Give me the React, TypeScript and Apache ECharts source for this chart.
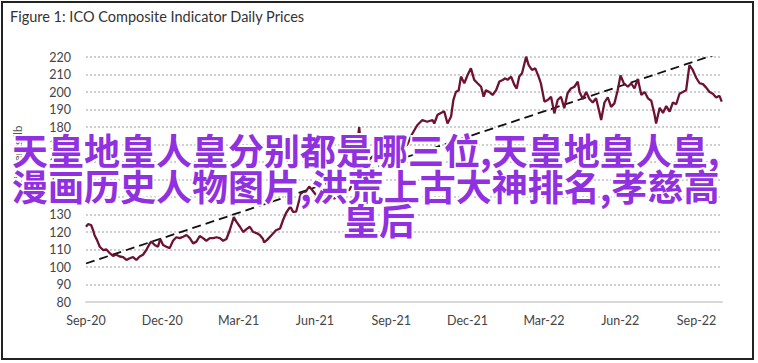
import { useEffect, useRef } from "react";
import * as echarts from "echarts";

const titleText = "Figure 1: ICO Composite Indicator Daily Prices";
const yAxisName = "US cents/lb";
const tickLabels = ["Sep-20", "Dec-20", "Mar-21", "Jun-21", "Sep-21", "Dec-21", "Mar-22", "Jun-22", "Sep-22"];

// months since 1 Sep 2020
const months = [
  0.0, 0.08, 0.2, 0.28, 0.34, 0.43, 0.54, 0.67, 0.8, 0.93, 1.06, 1.19, 1.33, 1.46, 1.59, 1.72, 1.85, 1.98,
  2.11, 2.24, 2.37, 2.51, 2.57, 2.7, 2.83, 2.92, 3.03, 3.16, 3.29, 3.42, 3.55, 3.69, 3.82, 3.95, 4.08, 4.21,
  4.34, 4.47, 4.6, 4.73, 4.87, 5.0, 5.13, 5.26, 5.39, 5.52, 5.65, 5.81, 5.91, 6.05, 6.18, 6.31, 6.44, 6.57,
  6.7, 6.83, 6.96, 7.0, 7.12, 7.28, 7.47, 7.63, 7.75, 7.87, 8.03, 8.14, 8.26, 8.45, 8.64, 8.77, 8.89, 9.05,
  9.21, 9.36, 9.56, 9.76, 9.95, 10.15, 10.35, 10.5, 10.62, 10.74, 10.82, 10.9, 11.05, 11.25, 11.45, 11.64,
  11.84, 12.04, 12.23, 12.43, 12.63, 12.82, 13.02, 13.22, 13.41, 13.62, 13.69, 13.82, 13.95, 14.08, 14.21,
  14.35, 14.44, 14.54, 14.65, 14.74, 14.87, 15.0, 15.13, 15.26, 15.39, 15.53, 15.63, 15.72, 15.85, 15.98,
  16.12, 16.25, 16.38, 16.48, 16.57, 16.71, 16.84, 16.93, 17.03, 17.14, 17.3, 17.4, 17.53, 17.66, 17.79,
  17.88, 18.02, 18.15, 18.28, 18.41, 18.54, 18.67, 18.8, 18.93, 19.06, 19.2, 19.33, 19.4, 19.53, 19.66,
  19.79, 19.92, 20.05, 20.18, 20.25, 20.38, 20.51, 20.64, 20.77, 20.9, 21.01, 21.14, 21.3, 21.43, 21.56,
  21.69, 21.83, 21.96, 22.09, 22.22, 22.35, 22.41, 22.55, 22.68, 22.81, 22.94, 23.07, 23.2, 23.33, 23.46,
  23.59, 23.72, 23.85, 23.99, 24.12, 24.25, 24.38, 24.51, 24.64, 24.77, 24.9, 24.99,
];

const prices = [
  123, 124.5, 124, 121, 118, 115.5, 111.6, 109.7, 110, 108, 106.3, 107, 106, 105.7, 104, 105, 105.7, 104,
  106, 107, 109.7, 113.5, 114.5, 112.6, 111.6, 116, 112.6, 111.6, 110.8, 115, 117, 116.5, 117.3, 118.3, 116.5, 113.5,
  114.5, 117.7, 116.5, 115, 116.5, 116.5, 117, 116.5, 115, 116, 121, 128.5, 125.9, 123, 120, 121.6, 123, 120,
  119.4, 118.3, 116, 114, 115.5, 118, 121, 122, 127, 131, 134.5, 131.5, 131.6, 142, 143, 146, 144, 141,
  138, 140, 142, 139, 142, 143, 144, 148, 165, 180, 165, 157, 160, 163, 166, 168,
  171, 168, 170, 168, 170, 176, 181, 184, 183, 184, 182, 187, 188, 189, 182,
  186, 195.4, 200, 201, 208.8, 205, 209.7, 213.5, 206.9, 205, 203, 197.3, 201, 200, 198.3,
  201, 206, 206.9, 207.8, 206.9, 208.8, 204, 202, 208.8, 210.7, 220.2, 215.4, 212.6, 213.5, 208.8,
  205, 194.5, 195.4, 197.3, 187.8, 195.4, 197.3, 190.7, 199.3, 202, 203, 205.9, 200, 196, 200,
  196, 194, 196.4, 188.5, 184, 194, 197, 191.5, 193.5, 201, 209.5, 205, 203, 205, 202,
  207.5, 198.3, 200, 196.4, 195, 187, 182, 191, 188, 192, 188.8, 194, 193, 199, 200,
  201, 215.4, 212.6, 208, 205, 204.5, 202.5, 200, 199, 196.8, 197.8, 194.5,
];

const trendMonths = [0, 25];
const trendValues = [102, 222.7];

const overlayLines = [
  "天皇地皇人皇分别都是哪三位,天皇地皇人皇,",
  "漫画历史人物图片,洪荒上古大神排名,孝慈高",
  "皇后",
];

export default function App() {
  const ref = useRef<HTMLDivElement>(null);
  useEffect(() => {
    document.body.style.margin = "0";
    const chart = echarts.init(ref.current!, null, { renderer: "svg" });
    const purple = "#9030E0";
    const cjkFont = 'bold 36px "Noto Sans CJK SC"';
    const overlay = (text: string, x: number, y: number, align: string) => ({
      type: "text",
      x,
      y,
      style: {
        text,
        font: cjkFont,
        fill: purple,
        stroke: "#fff",
        lineWidth: 4,
        align,
        verticalAlign: "middle",
        textAlign: align,
        textVerticalAlign: "middle",
      },
      z: 100,
    });
    chart.setOption({
      animation: false,
      backgroundColor: "#fff",
      grid: { left: 86, right: 36, top: 57, bottom: 61 },
      xAxis: {
        type: "value",
        min: 0,
        max: 25,
        interval: 3,
        axisLine: { show: true, lineStyle: { color: "#d9d9d9", width: 2 } },
        axisTick: { show: false },
        splitLine: { show: false },
        axisLabel: {
          color: "#444",
          fontSize: 12.5,
          fontFamily: "Lato",
          margin: 12,
          formatter: (v: number) => (v % 3 === 0 ? tickLabels[v / 3] ?? "" : ""),
        },
      },
      yAxis: {
        type: "value",
        min: 80,
        max: 220,
        interval: 10,
        axisLine: { show: false },
        axisTick: { show: false },
        axisLabel: { color: "#444", fontSize: 12.5, fontFamily: "Lato", margin: 15 },
        splitLine: { show: true, lineStyle: { color: "#cfcfcf", width: 2, type: "dotted" } },
      },
      series: [
        {
          type: "line",
          data: trendMonths.map((m, i) => [m, trendValues[i]]),
          showSymbol: false,
          lineStyle: { color: "#111", width: 1.8, type: [9, 5] },
          z: 2,
        },
        {
          type: "line",
          data: months.map((m, i) => [m, prices[i]]),
          showSymbol: false,
          lineStyle: { color: "#6d1230", width: 2.3 },
          z: 3,
        },
      ],
      graphic: [
        {
          type: "rect",
          shape: { x: 2, y: 2, width: 751, height: 357 },
          style: { fill: "none", stroke: "#222", lineWidth: 2 },
          z: 10,
        },
        {
          type: "text",
          x: 10,
          y: 16,
          style: {
            text: titleText,
            font: "14.5px Lato",
            fill: "#333",
            align: "left",
            verticalAlign: "middle",
            textAlign: "left",
            textVerticalAlign: "middle",
          },
          z: 10,
        },
        {
          type: "text",
          x: 17,
          y: 155,
          rotation: Math.PI / 2,
          style: {
            text: yAxisName,
            font: "11.5px Lato",
            fill: "#555",
            align: "center",
            verticalAlign: "middle",
            textAlign: "center",
            textVerticalAlign: "middle",
          },
          z: 10,
        },
        overlay(overlayLines[0], 12, 149, "left"),
        overlay(overlayLines[1], 12, 185, "left"),
        overlay(overlayLines[2], 379, 219, "center"),
      ],
    });
    return () => chart.dispose();
  }, []);
  return <div ref={ref} style={{ width: 758, height: 363 }} />;
}
